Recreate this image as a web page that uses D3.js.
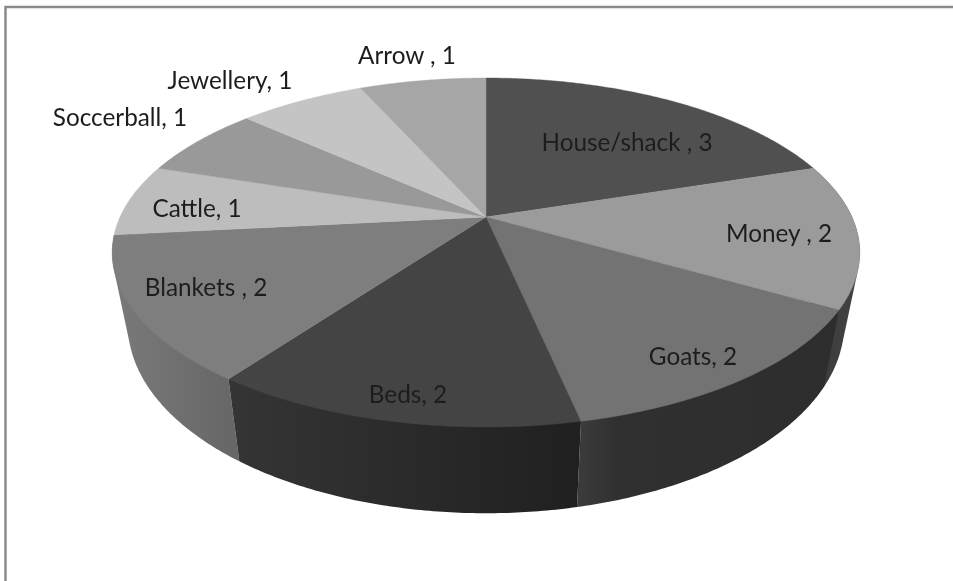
<!DOCTYPE html>
<html><head><meta charset="utf-8">
<script src="https://d3js.org/d3.v7.min.js"></script>
<style>html,body{margin:0;padding:0;background:#fff}svg{display:block}</style>
</head><body>
<svg id="c" width="953" height="581"></svg>
<script>
const categories = ["House/shack ","Money ","Goats","Beds","Blankets ","Cattle","Soccerball","Jewellery","Arrow "];
const values = [3,2,2,2,2,1,1,1,1];
const topColors = ["#505050","#9b9b9b","#737373","#444444","#7e7e7e","#bdbdbd","#999999","#c4c4c4","#a6a6a6"];
const sideStops = [null,[["0","#3a3a3a"],["1","#424242"]],[["0","#3c3c3c"],["0.15","#303030"],["1","#2d2d2d"]],[["0","#353535"],["1","#202020"]],[["0","#7a7a7a"],["1","#666666"]],null,null,null,null];
const labelX = [627,779,693,408,206,197,120,230,407];
const labelY = [142,233,356,394,287,208,117,80,55];

const svg = d3.select("#c");
const cx=486, cy=217, A=366, B=167.3, k=0.2035, xs=0.958, yb=286, Bb=181;
const project = (t, bottom) => {
  const u=Math.sin(t), v=Math.cos(t), w=1+k*v;
  return bottom ? [cx+xs*A*u/w, yb-Bb*v/w] : [cx+A*u/w, cy-B*v/w];
};
const arcPts = (a,b,bottom) => {
  const n=Math.max(2,Math.ceil((b-a)/0.01));
  return d3.range(n+1).map(i=>project(a+(b-a)*i/n,bottom));
};
const pie = d3.pie().sort(null).value(d=>d);
const arcs = pie(values);
const line = d3.line();
const defs = svg.append("defs");
defs.append("filter").attr("id","soft").append("feGaussianBlur").attr("stdDeviation",0.35);

// frame
svg.append("path").attr("d","M5.5,581V7H953").attr("fill","none").attr("stroke","#8a8a8a").attr("stroke-width",2.5);

// sides: back-most first
[1,4,2,3].forEach(i=>{
  const d=arcs[i];
  const pts=arcPts(d.startAngle,d.endAngle,false).concat(arcPts(d.startAngle,d.endAngle,true));
  const hull=d3.polygonHull(pts);
  const xe=d3.extent(hull,p=>p[0]);
  const id="g"+i;
  const g=defs.append("linearGradient").attr("id",id).attr("gradientUnits","userSpaceOnUse")
    .attr("x1",xe[0]).attr("x2",xe[1]).attr("y1",0).attr("y2",0);
  sideStops[i].forEach(s=>g.append("stop").attr("offset",s[0]).attr("stop-color",s[1]));
  svg.append("path").attr("d",line(hull)+"Z").attr("fill",`url(#${id})`);
});

// top faces
arcs.forEach((d,i)=>{
  const pts=[[cx,cy]].concat(arcPts(d.startAngle,d.endAngle,false));
  svg.append("path").attr("d",line(pts)+"Z").attr("fill",topColors[i]).attr("stroke",topColors[i]).attr("stroke-width",0.4);
});

// labels
categories.forEach((c,i)=>{
  svg.append("text").attr("x",labelX[i]).attr("y",labelY[i]).attr("dy","0.35em")
    .attr("text-anchor","middle").attr("font-family","Lato, 'Open Sans', sans-serif")
    .attr("font-size",24.3).attr("fill","#1e1e1e").attr("filter","url(#soft)").text(`${c}, ${values[i]}`);
});
</script>
</body></html>
